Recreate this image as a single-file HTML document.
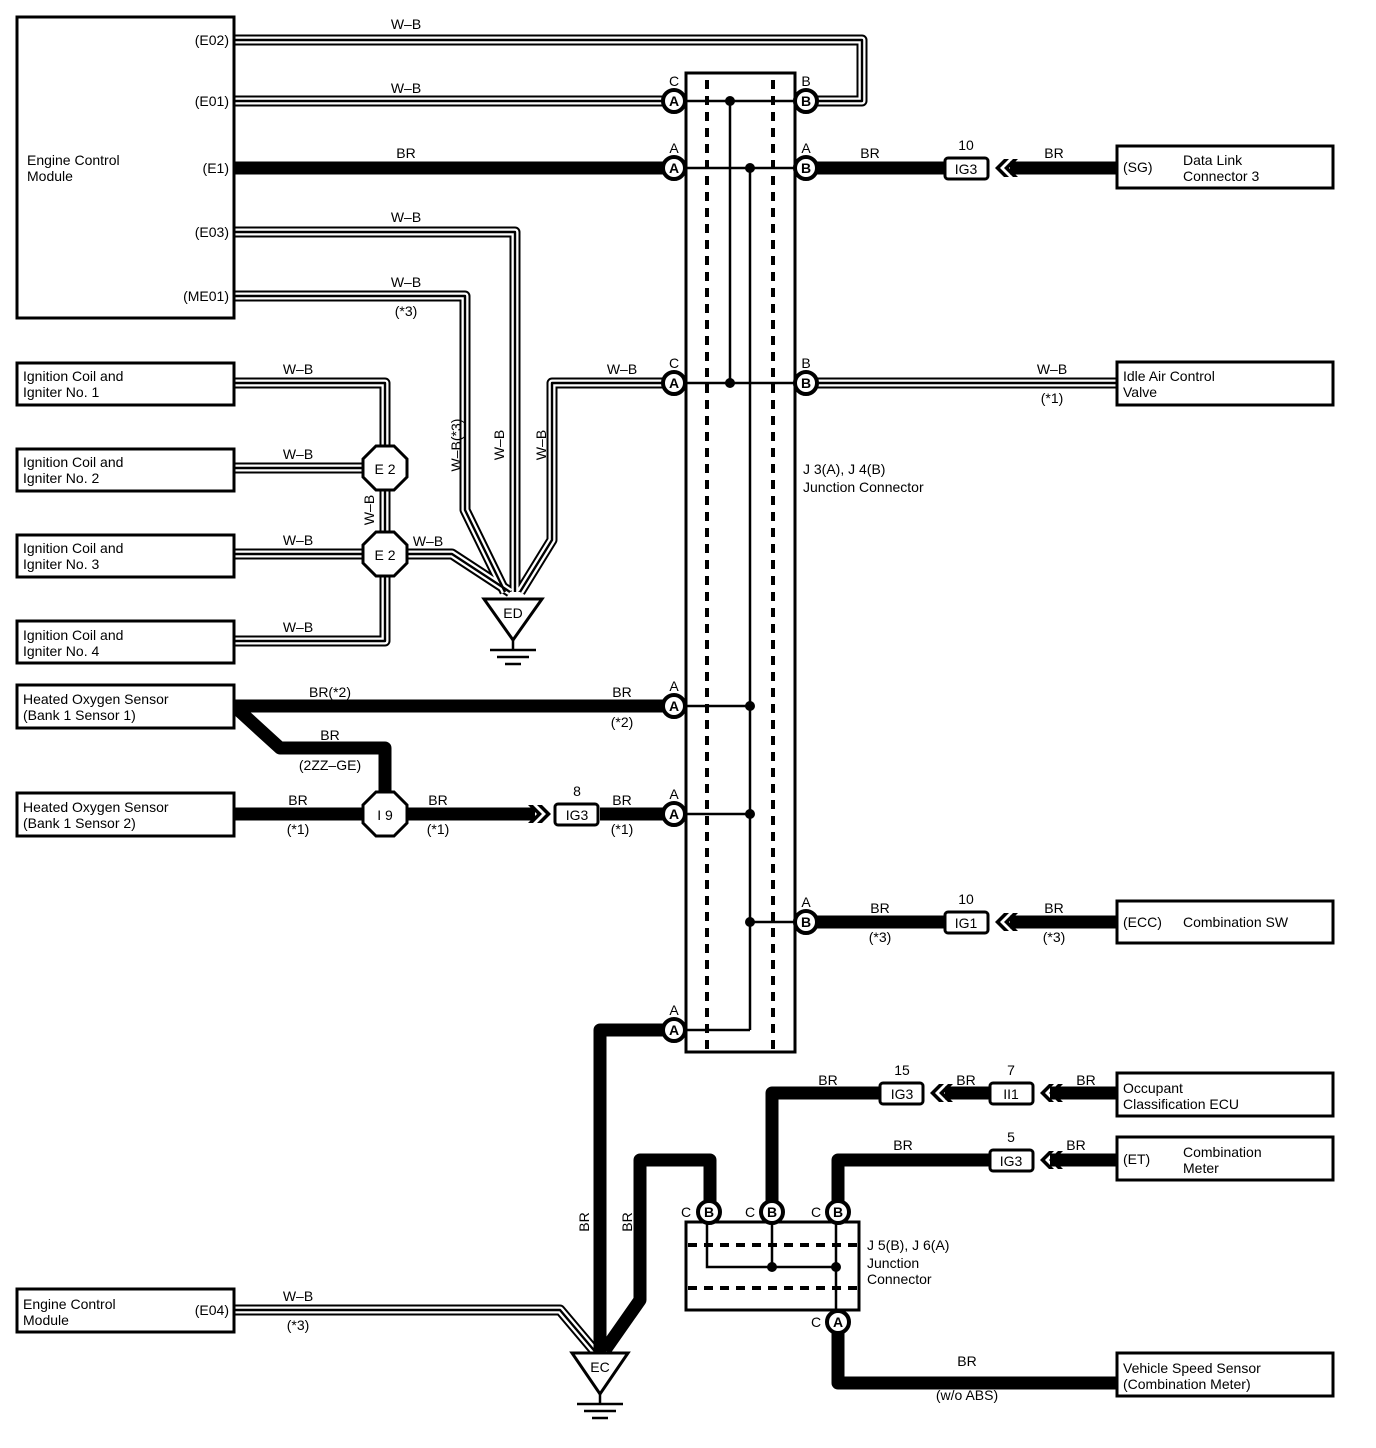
<!DOCTYPE html>
<html><head><meta charset="utf-8"><style>
html,body{margin:0;padding:0;background:#fff}
svg{display:block}
text{font-family:"Liberation Sans",sans-serif;font-size:14px;fill:#000}
#wbw path{fill:none}
.wb1{fill:none;stroke:#000;stroke-width:11;stroke-linejoin:round}
.wb2{fill:none;stroke:#fff;stroke-width:7;stroke-linejoin:round}
.wb3{fill:none;stroke:#000;stroke-width:2.4;stroke-linejoin:round}
.br{fill:none;stroke:#000;stroke-width:13;stroke-linejoin:round}
.thin{fill:none;stroke:#000;stroke-width:2.5}
.box{fill:#fff;stroke:#000;stroke-width:3}
.dash{fill:none;stroke:#000;stroke-width:4;stroke-dasharray:9,7}
.cn{fill:#fff;stroke:#000;stroke-width:4}
.ct{font-size:14px;font-weight:bold;text-anchor:middle}
.lab{text-anchor:middle}
</style></head><body>
<svg width="1376" height="1448" viewBox="0 0 1376 1448" xmlns="http://www.w3.org/2000/svg">
<defs>
<g id="chev"><path d="M0,0 L-9,-9 L-4,-9 L5,0 L-4,9 L-9,9 Z M9,0 L0,-9 L5,-9 L14,0 L5,9 L0,9 Z"/></g>
<g id="wbw" fill="none">
<path d="M234,40 H862 V101 H806"/>
<path d="M234,101 H664"/>
<path d="M234,232 H515 V592"/>
<path d="M234,296 H465 V510 L505,592"/>
<path d="M664,383 H552 V540 L520,592"/>
<path d="M806,383 H1117"/>
<path d="M234,383 H385 V468"/>
<path d="M234,468 H385"/>
<path d="M385,468 V554"/>
<path d="M234,554 H385"/>
<path d="M385,554 H452 L510,592"/>
<path d="M385,554 V641 H234"/>
<path d="M234,1310 H560 L598,1355"/>
</g>
</defs>

<g class="wb1"><use href="#wbw"/></g>
<g class="wb2"><use href="#wbw"/></g>
<g class="wb3"><use href="#wbw"/></g>

<!-- BR wires -->
<g class="br">
<path d="M234,168 H664"/>
<path d="M806,168 H945"/>
<path d="M1010,168 H1117"/>
<path d="M234,706 H664"/>
<path d="M234,706 L280,748 H385 V814"/>
<path d="M234,814 H535"/>
<path d="M600,814 H664"/>
<path d="M806,922 H945"/>
<path d="M1010,922 H1117"/>
<path d="M664,1030 H600 V1365"/>
<path d="M710,1212 V1160 H640 V1300 L605,1350"/>
<path d="M772,1212 V1093 H880"/>
<path d="M945,1093 H990"/>
<path d="M1050,1093 H1117"/>
<path d="M838,1212 V1160 H990"/>
<path d="M1050,1160 H1117"/>
<path d="M838,1322 V1383 H1117"/>
</g>

<!-- Junction J3/J4 -->
<rect x="686" y="73" width="109" height="979" class="box" stroke-width="4"/>
<path class="dash" d="M707,80 V1050 M773,80 V1050"/>
<g class="thin">
<path d="M686,101 H795 M686,168 H795 M686,383 H795 M686,706 H750 M686,814 H750 M750,922 H795 M686,1030 H750"/>
<path d="M730,101 V383 M750,168 V1030"/>
</g>
<g>
<circle cx="730" cy="101" r="5"/><circle cx="750" cy="168" r="5"/><circle cx="730" cy="383" r="5"/>
<circle cx="750" cy="706" r="5"/><circle cx="750" cy="814" r="5"/><circle cx="750" cy="922" r="5"/>
</g>

<!-- J5/J6 -->
<rect x="686" y="1222" width="173" height="88" class="box" stroke-width="4"/>
<path class="dash" d="M688,1245 H857 M688,1288 H857"/>
<g class="thin"><path d="M707,1222 V1267 H836 M772,1222 V1267 M836,1222 V1310"/></g>
<circle cx="772" cy="1267" r="5"/><circle cx="836" cy="1267" r="5"/>

<!-- connectors -->
<g>
<circle cx="674" cy="101" r="11" class="cn"/><text x="674" y="106" class="ct">A</text><text x="674" y="86" class="lab">C</text>
<circle cx="674" cy="168" r="11" class="cn"/><text x="674" y="173" class="ct">A</text><text x="674" y="153" class="lab">A</text>
<circle cx="674" cy="383" r="11" class="cn"/><text x="674" y="388" class="ct">A</text><text x="674" y="368" class="lab">C</text>
<circle cx="674" cy="706" r="11" class="cn"/><text x="674" y="711" class="ct">A</text><text x="674" y="691" class="lab">A</text>
<circle cx="674" cy="814" r="11" class="cn"/><text x="674" y="819" class="ct">A</text><text x="674" y="799" class="lab">A</text>
<circle cx="674" cy="1030" r="11" class="cn"/><text x="674" y="1035" class="ct">A</text><text x="674" y="1015" class="lab">A</text>
<circle cx="806" cy="101" r="11" class="cn"/><text x="806" y="106" class="ct">B</text><text x="806" y="86" class="lab">B</text>
<circle cx="806" cy="168" r="11" class="cn"/><text x="806" y="173" class="ct">B</text><text x="806" y="153" class="lab">A</text>
<circle cx="806" cy="383" r="11" class="cn"/><text x="806" y="388" class="ct">B</text><text x="806" y="368" class="lab">B</text>
<circle cx="806" cy="922" r="11" class="cn"/><text x="806" y="927" class="ct">B</text><text x="806" y="907" class="lab">A</text>
<circle cx="709" cy="1212" r="11" class="cn"/><text x="709" y="1217" class="ct">B</text><text x="686" y="1217" class="lab">C</text>
<circle cx="772" cy="1212" r="11" class="cn"/><text x="772" y="1217" class="ct">B</text><text x="750" y="1217" class="lab">C</text>
<circle cx="838" cy="1212" r="11" class="cn"/><text x="838" y="1217" class="ct">B</text><text x="816" y="1217" class="lab">C</text>
<circle cx="838" cy="1322" r="11" class="cn"/><text x="838" y="1327" class="ct">A</text><text x="816" y="1327" class="lab">C</text>
</g>

<!-- IG connectors -->
<g>
<rect x="945" y="158" width="43" height="21" rx="3" class="box" stroke-width="4"/><text x="966" y="174" class="lab">IG3</text><text x="966" y="150" class="lab">10</text>
<use href="#chev" x="995" y="168" transform="rotate(180 1002 168)"/>
<rect x="555" y="804" width="43" height="21" rx="3" class="box" stroke-width="4"/><text x="577" y="820" class="lab">IG3</text><text x="577" y="796" class="lab">8</text>
<use href="#chev" x="537" y="814"/>
<rect x="945" y="912" width="43" height="21" rx="3" class="box" stroke-width="4"/><text x="966" y="928" class="lab">IG1</text><text x="966" y="904" class="lab">10</text>
<use href="#chev" x="995" y="922" transform="rotate(180 1002 922)"/>
<rect x="880" y="1083" width="43" height="21" rx="3" class="box" stroke-width="4"/><text x="902" y="1099" class="lab">IG3</text><text x="902" y="1075" class="lab">15</text>
<use href="#chev" x="930" y="1093" transform="rotate(180 937 1093)"/>
<rect x="990" y="1083" width="43" height="21" rx="3" class="box" stroke-width="4"/><text x="1011" y="1099" class="lab">II1</text><text x="1011" y="1075" class="lab">7</text>
<use href="#chev" x="1040" y="1093" transform="rotate(180 1047 1093)"/>
<rect x="990" y="1150" width="43" height="21" rx="3" class="box" stroke-width="4"/><text x="1011" y="1166" class="lab">IG3</text><text x="1011" y="1142" class="lab">5</text>
<use href="#chev" x="1040" y="1160" transform="rotate(180 1047 1160)"/>
</g>

<!-- octagons -->
<g class="box" stroke-width="5">
<polygon points="376,446 394,446 407,459 407,477 394,490 376,490 363,477 363,459"/>
<polygon points="376,532 394,532 407,545 407,563 394,576 376,576 363,563 363,545"/>
<polygon points="376,792 394,792 407,805 407,823 394,836 376,836 363,823 363,805"/>
</g>
<text x="385" y="474" class="lab" font-size="15">E 2</text>
<text x="385" y="560" class="lab" font-size="15">E 2</text>
<text x="385" y="820" class="lab" font-size="15">I 9</text>

<!-- grounds -->
<polygon points="484,599 542,599 513,640" class="box" stroke-width="4"/>
<text x="513" y="618" class="lab">ED</text>
<path d="M513,640 V650 M490,650 H536 M497,657 H529 M505,664 H521" class="thin" stroke-width="3"/>
<polygon points="572,1353 628,1353 600,1394" class="box" stroke-width="4"/>
<text x="600" y="1372" class="lab">EC</text>
<path d="M600,1394 V1404 M577,1404 H623 M584,1411 H616 M592,1418 H608" class="thin" stroke-width="3"/>

<!-- boxes -->
<g class="box">
<rect x="17" y="17" width="217" height="301"/>
<rect x="17" y="363" width="217" height="42"/>
<rect x="17" y="449" width="217" height="42"/>
<rect x="17" y="535" width="217" height="42"/>
<rect x="17" y="621" width="217" height="42"/>
<rect x="17" y="685" width="217" height="43"/>
<rect x="17" y="793" width="217" height="43"/>
<rect x="17" y="1289" width="217" height="43"/>
<rect x="1117" y="146" width="216" height="42"/>
<rect x="1117" y="362" width="216" height="43"/>
<rect x="1117" y="901" width="216" height="42"/>
<rect x="1117" y="1073" width="216" height="43"/>
<rect x="1117" y="1137" width="216" height="43"/>
<rect x="1117" y="1353" width="216" height="43"/>
</g>

<!-- box texts -->
<text x="27" y="165">Engine Control</text><text x="27" y="181">Module</text>
<text x="229" y="45" text-anchor="end">(E02)</text>
<text x="229" y="106" text-anchor="end">(E01)</text>
<text x="229" y="173" text-anchor="end">(E1)</text>
<text x="229" y="237" text-anchor="end">(E03)</text>
<text x="229" y="301" text-anchor="end">(ME01)</text>
<text x="23" y="381">Ignition Coil and</text><text x="23" y="397">Igniter No. 1</text>
<text x="23" y="467">Ignition Coil and</text><text x="23" y="483">Igniter No. 2</text>
<text x="23" y="553">Ignition Coil and</text><text x="23" y="569">Igniter No. 3</text>
<text x="23" y="640">Ignition Coil and</text><text x="23" y="656">Igniter No. 4</text>
<text x="23" y="704">Heated Oxygen Sensor</text><text x="23" y="720">(Bank 1 Sensor 1)</text>
<text x="23" y="812">Heated Oxygen Sensor</text><text x="23" y="828">(Bank 1 Sensor 2)</text>
<text x="23" y="1309">Engine Control</text><text x="23" y="1325">Module</text>
<text x="229" y="1315" text-anchor="end">(E04)</text>
<text x="1123" y="172">(SG)</text><text x="1183" y="165">Data Link</text><text x="1183" y="181">Connector 3</text>
<text x="1123" y="381">Idle Air Control</text><text x="1123" y="397">Valve</text>
<text x="1123" y="927">(ECC)</text><text x="1183" y="927">Combination SW</text>
<text x="1123" y="1093">Occupant</text><text x="1123" y="1109">Classification ECU</text>
<text x="1123" y="1164">(ET)</text><text x="1183" y="1157">Combination</text><text x="1183" y="1173">Meter</text>
<text x="1123" y="1373">Vehicle Speed Sensor</text><text x="1123" y="1389">(Combination Meter)</text>
<text x="803" y="474">J 3(A), J 4(B)</text><text x="803" y="492">Junction Connector</text>
<text x="867" y="1250">J 5(B), J 6(A)</text><text x="867" y="1268">Junction</text><text x="867" y="1284">Connector</text>

<!-- wire labels -->
<g class="lab">
<text x="406" y="29">W–B</text>
<text x="406" y="93">W–B</text>
<text x="406" y="158">BR</text>
<text x="406" y="222">W–B</text>
<text x="406" y="287">W–B</text>
<text x="406" y="316">(*3)</text>
<text x="298" y="374">W–B</text>
<text x="298" y="459">W–B</text>
<text x="298" y="545">W–B</text>
<text x="298" y="632">W–B</text>
<text x="428" y="546">W–B</text>
<text x="622" y="374">W–B</text>
<text x="1052" y="374">W–B</text>
<text x="1052" y="403">(*1)</text>
<text x="870" y="158">BR</text>
<text x="1054" y="158">BR</text>
<text x="330" y="697">BR(*2)</text>
<text x="622" y="697">BR</text>
<text x="622" y="727">(*2)</text>
<text x="330" y="740">BR</text>
<text x="330" y="770">(2ZZ–GE)</text>
<text x="298" y="805">BR</text>
<text x="298" y="834">(*1)</text>
<text x="438" y="805">BR</text>
<text x="438" y="834">(*1)</text>
<text x="622" y="805">BR</text>
<text x="622" y="834">(*1)</text>
<text x="880" y="913">BR</text>
<text x="880" y="942">(*3)</text>
<text x="1054" y="913">BR</text>
<text x="1054" y="942">(*3)</text>
<text x="828" y="1085">BR</text>
<text x="966" y="1085">BR</text>
<text x="1086" y="1085">BR</text>
<text x="903" y="1150">BR</text>
<text x="1076" y="1150">BR</text>
<text x="298" y="1301">W–B</text>
<text x="298" y="1330">(*3)</text>
<text x="967" y="1366">BR</text>
<text x="967" y="1400">(w/o ABS)</text>
</g>
<g class="lab">
<text transform="translate(374,510) rotate(-90)">W–B</text>
<text transform="translate(461,445) rotate(-90)">W–B(*3)</text>
<text transform="translate(504,445) rotate(-90)">W–B</text>
<text transform="translate(546,445) rotate(-90)">W–B</text>
<text transform="translate(589,1222) rotate(-90)">BR</text>
<text transform="translate(632,1222) rotate(-90)">BR</text>
</g>
</svg>
</body></html>
